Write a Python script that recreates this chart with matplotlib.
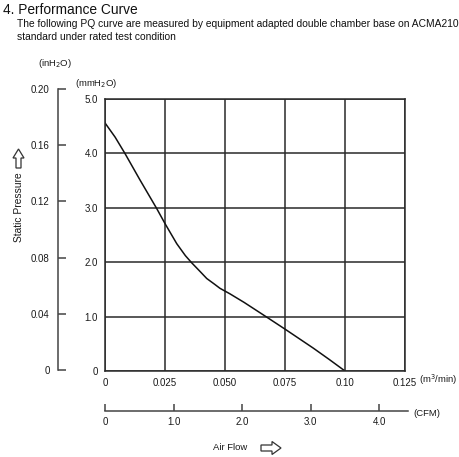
import matplotlib
matplotlib.use("Agg")
import matplotlib.pyplot as plt
from matplotlib.patches import Polygon
import numpy as np

plt.rcParams['font.family'] = ['Liberation Sans', 'DejaVu Sans']

# Data: airflow (m3/min) vs static pressure (mmH2O)
flow_m3min = [0.0, 0.0042, 0.0083, 0.0146, 0.0215, 0.025, 0.0299, 0.0335, 0.0361, 0.0396,
              0.0424, 0.0455, 0.0479, 0.052, 0.0580, 0.0674, 0.075, 0.0868, 0.0935, 0.100]
pressure_mm = [4.56, 4.30, 4.00, 3.51, 2.99, 2.71, 2.34, 2.12, 1.99, 1.83,
               1.70, 1.60, 1.52, 1.42, 1.26, 0.99, 0.77, 0.42, 0.21, 0.0]

x_ticks = [0, 0.025, 0.050, 0.075, 0.10, 0.125]
x_ticklabels = ['0', '0.025', '0.050', '0.075', '0.10', '0.125']
y_ticks = [0, 1.0, 2.0, 3.0, 4.0, 5.0]
y_ticklabels = ['0', '1.0', '2.0', '3.0', '4.0', '5.0']
in_ticks = [0, 0.04, 0.08, 0.12, 0.16, 0.20]
in_ticklabels = ['0', '0.04', '0.08', '0.12', '0.16', '0.20']
cfm_ticks = [0, 1.0, 2.0, 3.0, 4.0]
cfm_ticklabels = ['0', '1.0', '2.0', '3.0', '4.0']

W, H = 460, 457
fig = plt.figure(figsize=(W/100, H/100), dpi=100)

def rect(l, t, r, b):
    return [l/W, 1-b/H, (r-l)/W, (b-t)/H]

def px(x, y):
    return (x/W, 1-y/H)

grid_c = '#2a2a2a'
txt_c = '#1a1a1a'

# Main axes
ax = fig.add_axes(rect(105, 99, 405, 371))
ax.plot(flow_m3min, pressure_mm, color='#111111', lw=1.1)
ax.set_xlim(0, 0.125)
ax.set_ylim(0, 5.0)
ax.set_xticks(x_ticks)
ax.set_xticklabels(x_ticklabels, fontsize=7, color=txt_c)
ax.set_yticks(y_ticks)
ax.set_yticklabels(y_ticklabels, fontsize=7, color=txt_c)
ax.tick_params(length=0, pad=5)
ax.grid(True, color=grid_c, lw=1.1)
for s in ax.spines.values():
    s.set_color(grid_c)
    s.set_linewidth(1.1)

# inH2O axis
ax2 = fig.add_axes(rect(58, 89, 80, 370))
ax2.set_ylim(0, 0.20)
ax2.set_yticks(in_ticks)
ax2.set_yticklabels(in_ticklabels, fontsize=7, color=txt_c)
ax2.set_xticks([])
for k in ['top', 'right', 'bottom']:
    ax2.spines[k].set_visible(False)
ax2.spines['left'].set_color('#444444')
ax2.spines['left'].set_linewidth(1.1)
ax2.tick_params(axis='y', direction='in', length=6, width=1.1, color='#444444', pad=6)
ax2.patch.set_alpha(0)

# CFM axis
ax3 = fig.add_axes(rect(105, 400, 408, 411))
ax3.set_xlim(0, 4.42)
ax3.set_xticks(cfm_ticks)
ax3.set_xticklabels(cfm_ticklabels, fontsize=7, color=txt_c)
ax3.set_yticks([])
for k in ['top', 'right', 'left']:
    ax3.spines[k].set_visible(False)
ax3.spines['bottom'].set_color('#444444')
ax3.spines['bottom'].set_linewidth(1.1)
ax3.tick_params(axis='x', direction='in', length=5, width=1.1, color='#444444', pad=4)
ax3.patch.set_alpha(0)

# Texts
fig.text(*px(3, 10), '4. Performance Curve', fontsize=9.9, color='#111111', va='center', ha='left')
fig.text(*px(17, 24), 'The following PQ curve are measured by equipment adapted double chamber base on ACMA210',
         fontsize=7.35, color='#111111', va='center', ha='left')
fig.text(*px(17, 37), 'standard under rated test condition', fontsize=7.35, color='#111111', va='center', ha='left')
fig.text(*px(55, 64), '(inH$_2$O)', fontsize=6.8, color=txt_c, va='center', ha='center')
fig.text(*px(96, 83), '(mmH$_2$O)', fontsize=6.8, color=txt_c, va='center', ha='center')
fig.text(*px(438, 380), '(m$^3$/min)', fontsize=6.8, color=txt_c, va='center', ha='center')
fig.text(*px(427, 413), '(CFM)', fontsize=6.8, color=txt_c, va='center', ha='center')
fig.text(*px(19, 207), 'Static Pressure', fontsize=7.4, color=txt_c, va='center', ha='center', rotation=90)
fig.text(*px(230, 448), 'Air Flow', fontsize=6.8, color=txt_c, va='center', ha='center')

# hollow arrows
up = [(16, 168), (21, 168), (21, 158), (24, 158), (18.5, 149), (13, 158), (16, 158)]
fig.patches.append(Polygon([px(x, y) for x, y in up], closed=True, transform=fig.transFigure,
                           facecolor='white', edgecolor='#333333', lw=0.9))
right = [(261, 445), (272, 445), (272, 441.5), (281, 448), (272, 454.5), (272, 451), (261, 451)]
fig.patches.append(Polygon([px(x, y) for x, y in right], closed=True, transform=fig.transFigure,
                           facecolor='white', edgecolor='#333333', lw=0.9))

fig.savefig('out.png', dpi=100)
